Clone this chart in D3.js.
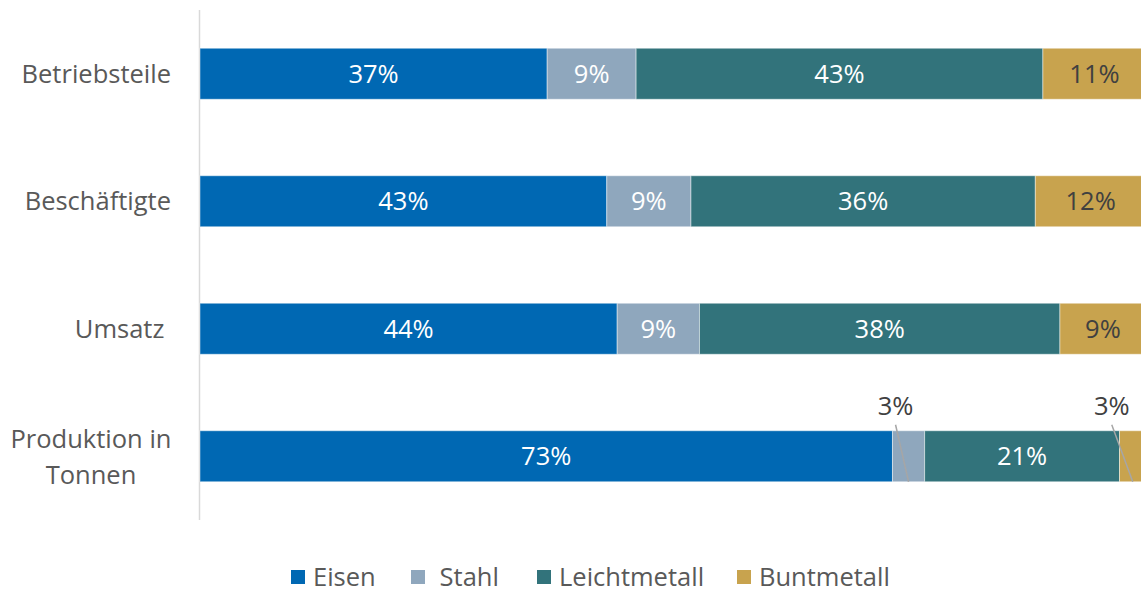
<!DOCTYPE html>
<html>
<head>
<meta charset="utf-8">
<script src="https://cdn.jsdelivr.net/npm/d3@7"></script>
<style>
  html, body { margin: 0; padding: 0; background: #fff; overflow: hidden; }
  svg { display: block; font-family: "Open Sans", sans-serif; }
</style>
</head>
<body>
<svg></svg>
<script>
/*
*  DATA
*/
let categories = ['Betriebsteile', 'Beschäftigte', 'Umsatz ', 'Produktion in Tonnen']
let series = ['Eisen', 'Stahl', 'Leichtmetall', 'Buntmetall']
let eisen  = [36.7, 43.0, 44.1, 73.2]
let stahl  = [9.4, 8.9, 8.7, 3.4]
let leicht = [43.0, 36.4, 38.1, 20.6]
let bunt   = [10.9, 11.7, 9.1, 2.8]
let colors = ['#0068b3', '#8fa7bd', '#32737b', '#c8a34e']

/*
*  RUN
*/
let width = 1141,
    height = 589,
    fs = 25.5

let svg = d3.select('svg').attr('width', width).attr('height', height)

let rows = categories.map((c, i) => ({
  cat: c, Eisen: eisen[i], Stahl: stahl[i], Leichtmetall: leicht[i], Buntmetall: bunt[i]
}))
let stacked = d3.stack().keys(series)(rows)

let x = d3.scaleLinear().domain([0, 100]).range([200, 1146])
let y = d3.scaleBand().domain(categories).range([10, 520]).paddingInner(0.6).paddingOuter(0.3)
let color = d3.scaleOrdinal().domain(series).range(colors)

// axis line
svg.append('line')
  .attr('x1', 199.5).attr('x2', 199.5)
  .attr('y1', 10).attr('y2', 520)
  .attr('stroke', '#d9d9d9').attr('stroke-width', 1.5)

// category labels
let yAx = svg.append('g').attr('class', 'ylabels')
categories.forEach(c => {
  let lines = c === 'Produktion in Tonnen' ? ['Produktion in', 'Tonnen'] : [c]
  let cy = y(c) + y.bandwidth() / 2
  let t = yAx.append('text')
    .attr('fill', '#595959').attr('font-size', fs)
  if (lines.length === 1) {
    t.attr('x', 171).attr('y', cy).attr('dy', '0.35em')
      .attr('text-anchor', 'end').style('white-space', 'pre').text(c)
  } else {
    t.attr('text-anchor', 'middle')
    lines.forEach((l, i) => {
      t.append('tspan').attr('x', 91).attr('y', cy + 1 + (i - 0.5) * 36).attr('dy', '0.35em').text(l)
    })
  }
})

// bars
let layers = svg.selectAll('.layer')
  .data(stacked)
  .enter().append('g')
  .attr('class', 'layer')
  .attr('fill', d => color(d.key))

layers.selectAll('rect')
  .data(d => d)
  .enter().append('rect')
  .attr('x', d => x(d[0]))
  .attr('width', d => x(d[1]) - x(d[0]))
  .attr('y', d => y(d.data.cat))
  .attr('height', y.bandwidth())
  .attr('stroke', 'rgba(255,255,255,0.45)')
  .attr('stroke-width', 1)

// value labels
stacked.forEach(layer => {
  layer.forEach(d => {
    let v = d[1] - d[0]
    let cx = (x(d[0]) + x(d[1])) / 2
    let top = y(d.data.cat)
    let label = Math.round(v) + '%'
    let dark = layer.key === 'Buntmetall'
    if (v < 5) {
      // small share: label above the bar with leader line
      let off = layer.key === 'Stahl' ? -13 : -21
      svg.append('line')
        .attr('x1', cx + off).attr('y1', top - 6)
        .attr('x2', cx).attr('y2', top + y.bandwidth())
        .attr('stroke', '#a6a6a6').attr('stroke-width', 1.5)
      svg.append('text')
        .attr('x', cx + off).attr('y', top - 25).attr('dy', '0.35em')
        .attr('text-anchor', 'middle').attr('font-size', fs)
        .attr('fill', '#404040').text(label)
    } else {
      svg.append('text')
        .attr('x', cx).attr('y', top + y.bandwidth() / 2).attr('dy', '0.35em')
        .attr('text-anchor', 'middle').attr('font-size', fs)
        .attr('fill', dark ? '#404040' : '#fff').text(label)
    }
  })
})

// legend
let legendX = [291, 411, 537, 737]
let legendText = ['Eisen', ' Stahl', 'Leichtmetall', 'Buntmetall']
let lg = svg.append('g').attr('class', 'legend')
series.forEach((s, i) => {
  lg.append('rect')
    .attr('x', legendX[i]).attr('y', 570)
    .attr('width', 14).attr('height', 14)
    .attr('fill', color(s))
  lg.append('text')
    .attr('x', legendX[i] + 22).attr('y', 577).attr('dy', '0.35em')
    .attr('font-size', fs).attr('fill', '#595959')
    .style('white-space', 'pre')
    .text(legendText[i])
})
</script>
</body>
</html>
